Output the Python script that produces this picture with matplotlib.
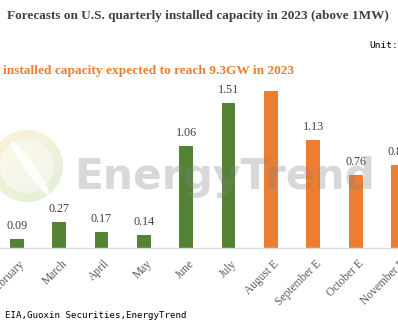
import matplotlib
matplotlib.use("Agg")
import matplotlib.pyplot as plt
import matplotlib.transforms as mtransforms
import numpy as np
from matplotlib.patches import Circle, Ellipse

# data (GW)
months = ["February", "March", "April", "May", "June", "July",
          "August E", "September E", "October E", "November E"]
values = [0.09, 0.27, 0.17, 0.14, 1.06, 1.51, 1.64, 1.13, 0.76, 0.87]
shown_labels = ["0.09", "0.27", "0.17", "0.14", "1.06", "1.51", "", "1.13", "0.76", "0.87"]
is_forecast = [False, False, False, False, False, False, True, True, True, True]

green = "#548235"
orange = "#ED7D31"

W, H = 398, 332
fig = plt.figure(figsize=(W / 100, H / 100), dpi=100)

# main bar axes, baseline at y=248px, top at y=80px
ax = fig.add_axes([0, (H - 248) / H, 1, (248 - 80) / H])
x = np.arange(len(months))
colors = [orange if f else green for f in is_forecast]
ax.bar(x, values, width=0.326, color=colors, zorder=2)
ax.set_xlim(-17 / 43, -17 / 43 + W / 43)
ax.set_ylim(0, 1.752)

for xi, v, lab in zip(x, values, shown_labels):
    if lab:
        ax.annotate(lab, (xi, v), xytext=(0, 5), textcoords="offset points",
                    ha="center", va="bottom", fontsize=8.7,
                    family="Liberation Serif", color="#404040")

ax.set_xticks(x)
ax.set_xticklabels(months, rotation=45, ha="right", va="top",
                   rotation_mode="anchor", family="Liberation Serif",
                   fontsize=8.3, color="#595959")
ax.tick_params(axis="x", length=0, pad=7)
shift = mtransforms.ScaledTranslation(2 / 100, 0, fig.dpi_scale_trans)
for lab in ax.get_xticklabels():
    lab.set_transform(lab.get_transform() + shift)
ax.set_yticks([])
for s in ["top", "left", "right"]:
    ax.spines[s].set_visible(False)
ax.spines["bottom"].set_color("#d9d9d9")
ax.spines["bottom"].set_linewidth(1)
ax.patch.set_alpha(0)

# overlay axes in pixel coordinates for texts and watermark
ov = fig.add_axes([0, 0, 1, 1], zorder=5)
ov.axis("off")
ov.patch.set_alpha(0)

# watermark logo
yy = np.linspace(0, 1, 100)[:, None]
xx = np.linspace(0, 1, 100)[None, :]
t = np.clip(yy * 0.7 + xx * 0.5, 0, 1)
c_top = np.array([1.0, 0.95, 0.86])
c_bot = np.array([0.90, 0.94, 0.85])
img = c_top[None, None, :] * (1 - t[..., None]) + c_bot[None, None, :] * t[..., None]
circ = Circle((27, 166), 36, transform=ov.transData, facecolor="none", edgecolor="none")
ov.add_patch(circ)
im = ov.imshow(img, extent=(-9, 63, 202, 130), origin="upper", zorder=1, aspect="auto")
im.set_clip_path(circ)
ov.add_patch(Circle((27, 166), 27, facecolor="white", edgecolor="none", alpha=0.45, zorder=2))
ov.add_patch(Ellipse((30, 168), 10, 66, angle=-35, facecolor="white", edgecolor="none",
                     alpha=0.9, zorder=3))
ov.set_xlim(0, W)
ov.set_ylim(H, 0)

ov.text(74, 189, "EnergyTrend", fontsize=30.5, fontweight="bold", family="DejaVu Sans",
        color="#808080", alpha=0.3, ha="left", va="baseline", zorder=4)

# titles and notes
ov.text(7, 16, "Forecasts on U.S. quarterly installed capacity in 2023 (above 1MW)",
        fontsize=9.5, fontweight="bold", family="Liberation Serif", color="#404040",
        ha="left", va="center")
ov.text(369, 45, "Unit:", fontsize=6.8, family="DejaVu Sans Mono", color="black",
        ha="left", va="center")
ov.text(3, 71, "installed capacity expected to reach 9.3GW in 2023",
        fontsize=9.6, fontweight="bold", family="Liberation Serif", color=orange,
        ha="left", va="center")
ov.text(5, 316, "EIA,Guoxin Securities,EnergyTrend", fontsize=6.6,
        family="DejaVu Sans Mono", color="black", ha="left", va="center")

fig.savefig("out.png", dpi=100)
